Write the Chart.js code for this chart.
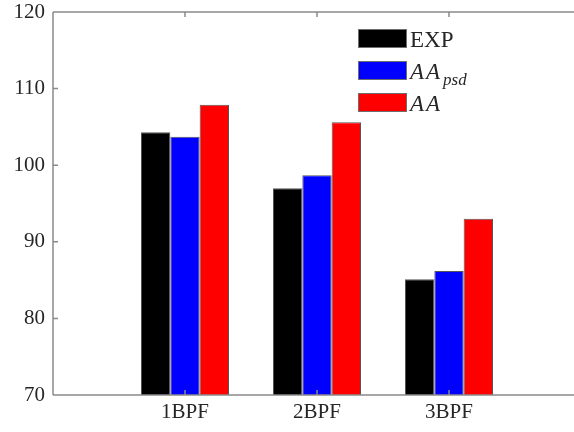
<!DOCTYPE html>
<html>
<head>
<meta charset="utf-8">
<script src="https://cdn.jsdelivr.net/npm/chart.js@4/dist/chart.umd.min.js"></script>
<style>
  html, body { margin: 0; padding: 0; background: #fff; overflow: hidden; }
  #clip { position: absolute; left: 0; top: 0; width: 574px; height: 432px; overflow: hidden; }
  #wrap { position: absolute; left: 0; top: 0; width: 581px; height: 432px; }
</style>
</head>
<body>
<div id="clip"><div id="wrap"><canvas id="c"></canvas></div></div>
<script>
// ---- data ----
const categories = ['1BPF', '2BPF', '3BPF'];
const seriesNames = ['EXP', 'AApsd', 'AA'];
const expValues = [104.3, 97.0, 85.1];
const aapsdValues = [103.7, 98.7, 86.2];
const aaValues = [107.9, 105.6, 93.0];
const yTicks = [70, 80, 90, 100, 110, 120];
const seriesColors = ['#000000', '#0000ff', '#ff0000'];

// padded with empty slots so the axis spans 0..4 like the original
const xLabels = [''].concat(categories, ['']);
const pad = arr => [null].concat(arr, [null]);

const axisColor = '#8a8a8a';
const textColor = '#262626';
const serif = "'Liberation Serif', 'Times New Roman', serif";

const framePlugin = {
  id: 'frame',
  afterDatasetsDraw(chart) {
    const ctx = chart.ctx;
    const a = chart.chartArea;
    const xs = chart.scales.x, ys = chart.scales.y;
    ctx.save();
    ctx.strokeStyle = axisColor;
    ctx.lineWidth = 1.5;
    ctx.beginPath();
    ctx.moveTo(a.left, a.top); ctx.lineTo(a.left, a.bottom);
    ctx.moveTo(a.left, a.bottom); ctx.lineTo(a.right, a.bottom);
    ctx.moveTo(a.left, a.top); ctx.lineTo(a.right, a.top);
    yTicks.forEach(v => {
      const y = ys.getPixelForValue(v);
      ctx.moveTo(a.left, y); ctx.lineTo(a.left + 5, y);
    });
    categories.forEach((c, i) => {
      const x = xs.getPixelForValue(i + 1);
      ctx.moveTo(x, a.bottom); ctx.lineTo(x, a.bottom - 5);
      ctx.moveTo(x, a.top); ctx.lineTo(x, a.top + 5);
    });
    ctx.stroke();

    // legend
    const bx = 358, bw = 49, bh = 19, tx = 410;
    const rows = [29, 61, 93];
    chart.data.datasets.forEach((ds, i) => {
      const y = rows[i];
      ctx.fillStyle = ds.backgroundColor;
      ctx.fillRect(bx, y, bw, bh);
      ctx.strokeStyle = '#6e6e6e';
      ctx.lineWidth = 1;
      ctx.strokeRect(bx + 0.5, y + 0.5, bw - 1, bh - 1);
      ctx.fillStyle = textColor;
      ctx.textBaseline = 'alphabetic';
      ctx.textAlign = 'left';
      const base = y + bh - 1;
      if (seriesNames[i] === 'EXP') {
        ctx.font = '23px ' + serif;
        ctx.fillText('EXP', tx, base);
      } else {
        ctx.font = 'italic 23px ' + serif;
        let x = tx;
        ['A', 'A'].forEach(ch => {
          ctx.fillText(ch, x, base);
          x += ctx.measureText(ch).width + 2;
        });
        if (seriesNames[i] === 'AApsd') {
          ctx.font = 'italic 17px ' + serif;
          ctx.fillText('psd', x + 1, base + 6);
        }
      }
    });
    ctx.restore();
  }
};

new Chart(document.getElementById('c'), {
  type: 'bar',
  data: {
    labels: xLabels,
    datasets: [
      { label: seriesNames[0], data: pad(expValues), backgroundColor: seriesColors[0] },
      { label: seriesNames[1], data: pad(aapsdValues), backgroundColor: seriesColors[1] },
      { label: seriesNames[2], data: pad(aaValues), backgroundColor: seriesColors[2] }
    ]
  },
  options: {
    responsive: true,
    maintainAspectRatio: false,
    animation: false,
    devicePixelRatio: 1,
    layout: { padding: { left: 0, top: 12, right: 0, bottom: 0 } },
    datasets: {
      bar: {
        base: 70,
        categoryPercentage: 0.667,
        barPercentage: 1.0,
        borderColor: '#555555',
        borderWidth: 1,
        borderSkipped: 'bottom'
      }
    },
    plugins: { legend: { display: false }, tooltip: { enabled: false } },
    scales: {
      x: {
        type: 'category',
        offset: false,
        grid: { display: false, drawTicks: false },
        border: { display: false },
        ticks: { color: textColor, font: { family: serif, size: 21 }, padding: 5, maxRotation: 0, autoSkip: false },
        afterFit(s) { s.height = 37; s.paddingLeft = 0; s.paddingRight = 0; }
      },
      y: {
        min: 70, max: 120,
        grid: { display: false, drawTicks: false },
        border: { display: false },
        ticks: { stepSize: 10, color: textColor, font: { family: serif, size: 21 }, padding: 8 },
        afterFit(s) { s.width = 53; s.paddingTop = 0; s.paddingBottom = 0; }
      }
    }
  },
  plugins: [framePlugin]
});
</script>
</body>
</html>
